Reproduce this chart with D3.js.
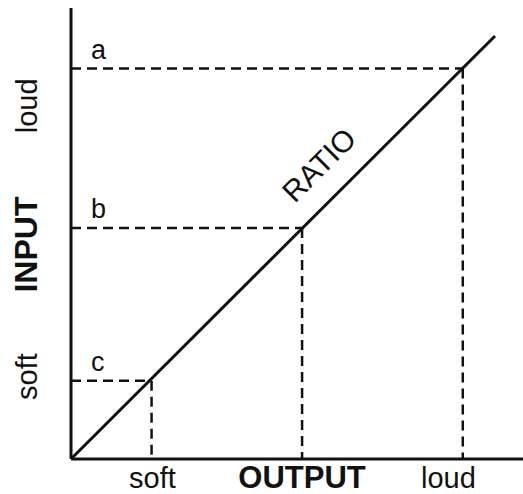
<!DOCTYPE html>
<html><head><meta charset="utf-8">
<script src="https://cdn.jsdelivr.net/npm/d3@7"></script>
<style>body{margin:0;background:#fff}</style>
</head><body>
<script>
// Data
const pointLabels = ["c", "b", "a"];
const outputValues = [19, 54.5, 92.4];
const inputValues = [18.5, 54.6, 92.3];
const xTickLabels = ["soft", "OUTPUT", "loud"];
const xTickPositions = [19.2, 54.5, 89];
const yTickLabels = ["soft", "INPUT", "loud"];
const yTickPositions = [19.5, 50.7, 83.5];
const ratioLine = [[0, 0], [100, 100]];
const ratioLabelAt = 64;
const axisMax = 106.6;

const W = 523, H = 494;
const svg = d3.select("body").append("svg").attr("width", W).attr("height", H);
const font = "Liberation Sans, Arial, Helvetica, sans-serif";

const x = d3.scaleLinear().domain([0, 100]).range([71, 495]);
const y = d3.scaleLinear().domain([0, 100]).range([459, 36]);

// dashed guides
const pts = pointLabels.map((l, i) => ({label: l, ox: outputValues[i], iy: inputValues[i]}));
const g = svg.append("g");
g.selectAll("line.h").data(pts).join("line")
  .attr("x1", x(0)).attr("x2", d => x(d.ox))
  .attr("y1", d => y(d.iy)).attr("y2", d => y(d.iy))
  .attr("stroke", "#111").attr("stroke-width", 2.5).attr("stroke-dasharray", "10,6");
g.selectAll("line.v").data(pts).join("line")
  .attr("x1", d => x(d.ox)).attr("x2", d => x(d.ox))
  .attr("y1", d => y(d.iy)).attr("y2", y(0))
  .attr("stroke", "#111").attr("stroke-width", 2.5).attr("stroke-dasharray", "10,6");
g.selectAll("text.pl").data(pts).join("text")
  .attr("x", x(0) + 20).attr("y", d => y(d.iy) - 10)
  .attr("font-family", font).attr("font-size", 27).attr("fill", "#111")
  .text(d => d.label);

// ratio line
svg.append("path").datum(ratioLine)
  .attr("d", d3.line().x(d => x(d[0])).y(d => y(d[1])))
  .attr("stroke", "#111").attr("stroke-width", 3).attr("fill", "none");

// RATIO label
svg.append("text").attr("transform", `translate(${x(ratioLabelAt) - 16},${y(ratioLabelAt) - 16}) rotate(-45)`)
  .attr("text-anchor", "middle").attr("font-family", font).attr("font-size", 30).attr("fill", "#111")
  .text("RATIO");

// axes
svg.append("line").attr("x1", x(0)).attr("x2", x(axisMax)).attr("y1", y(0)).attr("y2", y(0))
  .attr("stroke", "#111").attr("stroke-width", 3);
svg.append("line").attr("x1", x(0)).attr("x2", x(0)).attr("y1", y(0)).attr("y2", y(axisMax))
  .attr("stroke", "#111").attr("stroke-width", 3);

// x tick labels
svg.selectAll("text.xt").data(xTickLabels).join("text")
  .attr("x", (d, i) => x(xTickPositions[i])).attr("y", 488)
  .attr("text-anchor", "middle").attr("font-family", font)
  .attr("font-size", (d, i) => i === 1 ? 31 : 29)
  .attr("font-weight", (d, i) => i === 1 ? "bold" : "normal").attr("fill", "#111")
  .text(d => d);

// y tick labels
svg.selectAll("text.yt").data(yTickLabels).join("text")
  .attr("transform", (d, i) => `translate(37,${y(yTickPositions[i])}) rotate(-90)`)
  .attr("text-anchor", "middle").attr("font-family", font)
  .attr("font-size", (d, i) => i === 1 ? 32 : 29)
  .attr("font-weight", (d, i) => i === 1 ? "bold" : "normal").attr("fill", "#111")
  .text(d => d);
</script>
</body></html>
